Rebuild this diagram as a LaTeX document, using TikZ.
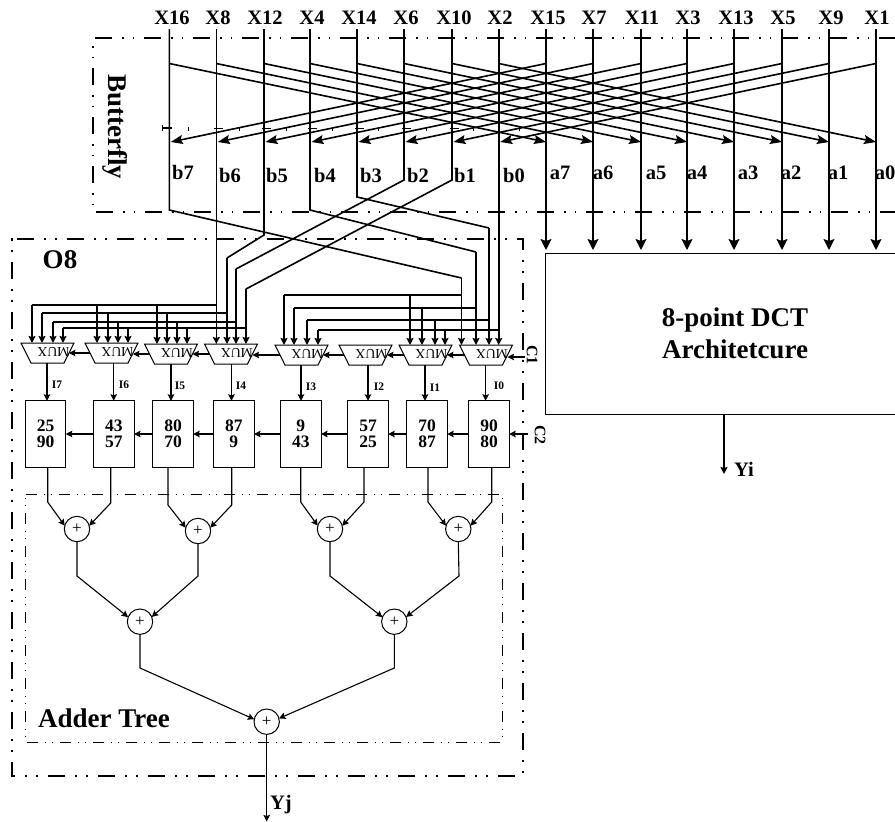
\documentclass[tikz,border=0pt]{standalone}
\usepackage{fontspec}
\setmainfont{Liberation Serif}
\usetikzlibrary{arrows.meta,shapes.geometric,calc}
\tikzset{
  wire/.style={line width=1.6pt,line join=miter},
  thinw/.style={line width=1.1pt},
  bigarr/.style={wire,-{Stealth[length=11pt,width=11pt,inset=2pt]}},
  crossarr/.style={wire,-{Stealth[length=12pt,width=9pt,inset=2pt]}},
  busarr/.style={wire,-{Stealth[length=7pt,width=7pt,inset=1pt]}},
  smallarr/.style={thinw,-{Stealth[length=6.5pt,width=6.5pt,inset=1pt]}},
  bflybox/.style={line width=1.5pt,dash pattern=on 17pt off 10pt on 1.5pt off 9pt on 1.5pt off 10pt},
  o8box/.style={line width=2pt,dash pattern=on 17pt off 10pt on 2pt off 9pt on 2pt off 10pt},
  addbox/.style={line width=1pt,dash pattern=on 11pt off 7pt on 1pt off 6pt on 1pt off 7pt},
  muxframe/.style={inner sep=0pt,outer sep=0pt,minimum width=53pt,minimum height=20pt},
  muxline/.style={line width=1pt,line join=miter},
  muxlab/.style={inner sep=0pt,rotate=180,font=\fontsize{13.7}{14}\selectfont},
  regbox/.style={draw,line width=1pt,inner sep=0pt,outer sep=0pt,minimum width=40.5pt,minimum height=66.5pt,
     align=center,font=\bfseries\fontsize{17.5}{16}\selectfont},
  adder/.style={circle,draw,line width=1pt,inner sep=0pt,outer sep=0pt,minimum size=25.4pt,font=\fontsize{17}{17}\selectfont},
  biglab/.style={inner sep=0pt,font=\bfseries\fontsize{27}{32}\selectfont,align=center},
  collab/.style={inner sep=0pt,font=\bfseries\fontsize{20.5}{22}\selectfont},
  ilab/.style={inner sep=0pt,font=\bfseries\fontsize{11.5}{12}\selectfont},
  ctllab/.style={inner sep=0pt,rotate=-90,font=\bfseries\fontsize{16}{16}\selectfont},
}
\begin{document}
\begin{tikzpicture}[x=1pt,y=-1pt]
\useasboundingbox (0,0) rectangle (895,822);
\clip (0,0) rectangle (895,822);
% boxes
\draw[bflybox] (896,38) -- (93,38) -- (93,212) -- (896,212);
\draw[o8box] (17,239) -- (522.7,239) -- (522.7,775.7) -- (12,775.7) -- (12,239) -- cycle;
\draw[addbox] (25.7,494) -- (502,494) -- (502,742) -- (25.7,742) -- cycle;
% column heads
\foreach \n/\cx/\lx/\t in {0/169.3/172/X16,1/216.3/218/X8,2/264/265/X12,3/310/312/X4,4/357/359/X14,5/404/406/X6,6/452/454/X10,7/498.7/500/X2,8/546/548/X15,9/593/594/X7,10/641/642/X11,11/687/688/X3,12/734/736/X13,13/782/783/X5,14/829/831/X9,15/876/877/X1}{
  \node[collab] (h\n) at (\lx,18) {\t};
  \coordinate (t\n) at (\cx,29);
  \coordinate (s\n) at (\cx,63.5);
  \coordinate (e\n) at (\cx,142);
}
% butterfly labels
\foreach \n/\x/\y/\t in {b7/183/172/b7,b6/230/175/b6,b5/277/175/b5,b4/325/175/b4,b3/371/175/b3,b2/418/175/b2,b1/465/175/b1,b0/514/175/b0,a7/560/173/a7,a6/603/173/a6,a5/656/173/a5,a4/697/173/a4,a3/748/173/a3,a2/791/173/a2,a1/838/173/a1,a0/885/173/a0}{
  \node[collab] (l\n) at (\x,\y) {\t};
}
\node[biglab,rotate=-90] (bfly) at (115,127) {Butterfly};
\node[biglab] (o8) at (60,260) {O8};
\node[biglab] (addt) at (104,718) {Adder Tree};
% crossing wires
\foreach \a/\b in {0/8,1/9,2/10,3/11,4/12,5/13,6/14,7/15}{
  \draw[crossarr] (s\a) -- (e\b);
  \draw[crossarr] (s\b) -- ($(e\a)+(1.5,0)$);
}
% marks of the hidden rule
\foreach \x in {188,239,286,332,378,426,473,519}{
  \draw[line width=1pt] (\x,127) -- (\x,131);
}
\foreach \n in {1,...,6}{
  \draw[line width=1pt] ($(e\n)+(-2,-14)$) -- ($(e\n)+(7,-14)$);
}
\draw[line width=1.2pt] ($(e0)+(-6.5,-14)$) -- ($(e0)+(3,-14)$);
\draw[line width=1.2pt] ($(e0)+(-6.5,-17)$) -- ($(e0)+(-6.5,-11)$);
% 8-point block
\node[draw,line width=1pt,inner sep=0pt,outer sep=0pt,minimum width=380pt,minimum height=161pt,align=center,
  font=\bfseries\fontsize{27}{32}\selectfont] (dct) at (735,333.5) {8-point DCT\\Architetcure};
\foreach \n in {8,...,15}{
  \draw[bigarr] (t\n) -- ($(t\n |- dct.north)+(0,-3)$);
}
\coordinate (yi) at (724,474);
\draw[thinw,line width=1.5pt,-{Stealth[length=7pt,width=7pt,inset=1pt]}] (yi |- dct.south) -- (yi);
\node[collab] (yil) at (744,469) {Yi};
% muxes
\foreach \n/\x/\y in {7/47.5/353,6/111.5/353,5/171/354,4/231/354,3/301.5/355,2/365.5/355,1/425.5/355,0/486/355}{
  \node[muxframe] (m\n) at (\x,\y) {};
  \draw[muxline] (m\n.north west) -- (m\n.north east) -- ($(m\n.south east)+(-10,0)$) -- ($(m\n.south west)+(10,0)$) -- cycle;
  \coordinate (mw\n) at ($(m\n.west)+(5,0)$);
  \coordinate (me\n) at ($(m\n.east)+(-5,0)$);
  \node[muxlab] (ml\n) at (\x+6,\y-1.5) {MUX};
}
% registers
\foreach \n/\x/\a/\b in {7/45.5/25/90,6/113.8/43/57,5/173/80/70,4/233.8/87/9,3/300.8/9/43,2/368/57/25,1/427/70/87,0/489/90/80}{
  \node[regbox] (r\n) at (\x,434) {\a\\\b};
}
% mux outputs
\foreach \n/\x/\t/\lx/\ly in {7/47/I7/57/385,6/113.7/I6/124/385,5/171/I5/180/386,4/231.5/I4/241/386,3/301/I3/311/387,2/368/I2/379/387,1/425/I1/435/388,0/485.6/I0/499/386}{
  \draw[smallarr] (\x,0 |- m\n.south) -- (\x,0 |- r\n.north);
  \node[ilab] (il\n) at (\lx,\ly) {\t};
}
% input wires from the butterfly
\draw[wire] (t0) -- (169.3,210) -- (461.5,278) coordinate (p0);
\draw[busarr] (p0) -- (461.5,0 |- m0.north);
\draw[busarr] (t1) -- (216.3,0 |- m4.north);
\draw[wire] (t2) -- (264,235) -- (227,258) coordinate (p2);
\draw[busarr] (p2) -- (227,0 |- m4.north);
\draw[wire] (t3) -- (310,210) -- (476,252) coordinate (p3);
\draw[busarr] (p3) -- (476,0 |- m0.north);
\draw[wire] (t4) -- (357,197) -- (489,228) coordinate (p4);
\draw[busarr] (p4) -- (489,0 |- m0.north);
\draw[wire] (t5) -- (404,180) -- (236,269) coordinate (p5);
\draw[busarr] (p5) -- (236,0 |- m4.north);
\draw[wire] (t6) -- (452,180) -- (246,289) coordinate (p6);
\draw[busarr] (p6) -- (246,0 |- m4.north);
\draw[busarr] (t7) -- (498.7,0 |- m0.north);
% buses, left group
\draw[wire] (216.3,305) -- (32,305);
\draw[wire] (227,313) -- (42,313);
\draw[wire] (236,322) -- (53,322);
\draw[wire] (246,328) -- (63,328);
\foreach \x/\y/\m in {32/305/7,42/313/7,53/322/7,63/328/7,97/305/6,108/313/6,118/322/6,128/328/6,157/305/5,167/313/5,177/322/5,187/328/5}{
  \draw[busarr] (\x,\y) -- (\x,0 |- m\m.north);
}
% buses, right group
\draw[wire] (461.5,295) -- (284,295);
\draw[wire] (476,308) -- (294,308);
\draw[wire] (489,320) -- (307,320);
\draw[wire] (498.7,330) -- (318,330);
\foreach \x/\y/\m in {284/295/3,294/308/3,307/320/3,318/330/3,410/295/1,422/308/1,435/320/1,445/330/1}{
  \draw[busarr] (\x,\y) -- (\x,0 |- m\m.north);
}
% control chains
\coordinate (c1s) at (525,357);
\coordinate (c2s) at (528,434);
\draw[smallarr] (c1s) -- (me0 |- c1s);
\foreach \a/\b in {0/1,1/2,2/3,3/4,4/5,5/6,6/7}{
  \draw[smallarr] (mw\a) -- (mw\a -| me\b);
}
\draw[smallarr] (c2s) -- (r0.east);
\foreach \a/\b in {0/1,1/2,2/3,3/4,4/5,5/6,6/7}{
  \draw[smallarr] (r\a.west) -- (r\b.east);
}
\node[ctllab] (c1l) at (532,355) {C1};
\node[ctllab] (c2l) at (540,435) {C2};
% adders
\node[adder] (a1) at (77,529) {+};
\node[adder] (a2) at (198,531) {+};
\node[adder] (a3) at (330,529) {+};
\node[adder] (a4) at (458.3,529) {+};
\node[adder] (a5) at (140,621.7) {+};
\node[adder] (a6) at (394.3,621.7) {+};
\node[adder] (a7) at (266.7,721.7) {+};
\foreach \n/\x/\y/\ad/\ang in {7/47.7/502/a1/165,6/110.7/503/a1/15,5/168/505/a2/165,4/231.7/505/a2/15,3/300.7/502/a3/165,2/364/502/a3/15,1/428/502/a4/165,0/491.7/502/a4/15}{
  \draw[smallarr] (\x,0 |- r\n.south) -- (\x,\y) -- (\ad.\ang);
}
\draw[smallarr] (a1.south) -- (77,576) -- (a5.159);
\draw[smallarr] (a2.south) -- (198,576) -- (a5.22);
\draw[smallarr] (a3.south) -- (330,576) -- (a6.159);
\draw[smallarr] (a4.south) -- (459,576) -- (a6.22);
\draw[smallarr] (a5.south) -- (140,668) -- (a7.169);
\draw[smallarr] (a6.south) -- (394.3,668) -- (a7.15);
\coordinate (yj) at (266.7,821.5);
\draw[smallarr,line width=1.4pt] (a7.south) -- (yj);
\node[collab] (yjl) at (281,805) {Yj};
\end{tikzpicture}
\end{document}
